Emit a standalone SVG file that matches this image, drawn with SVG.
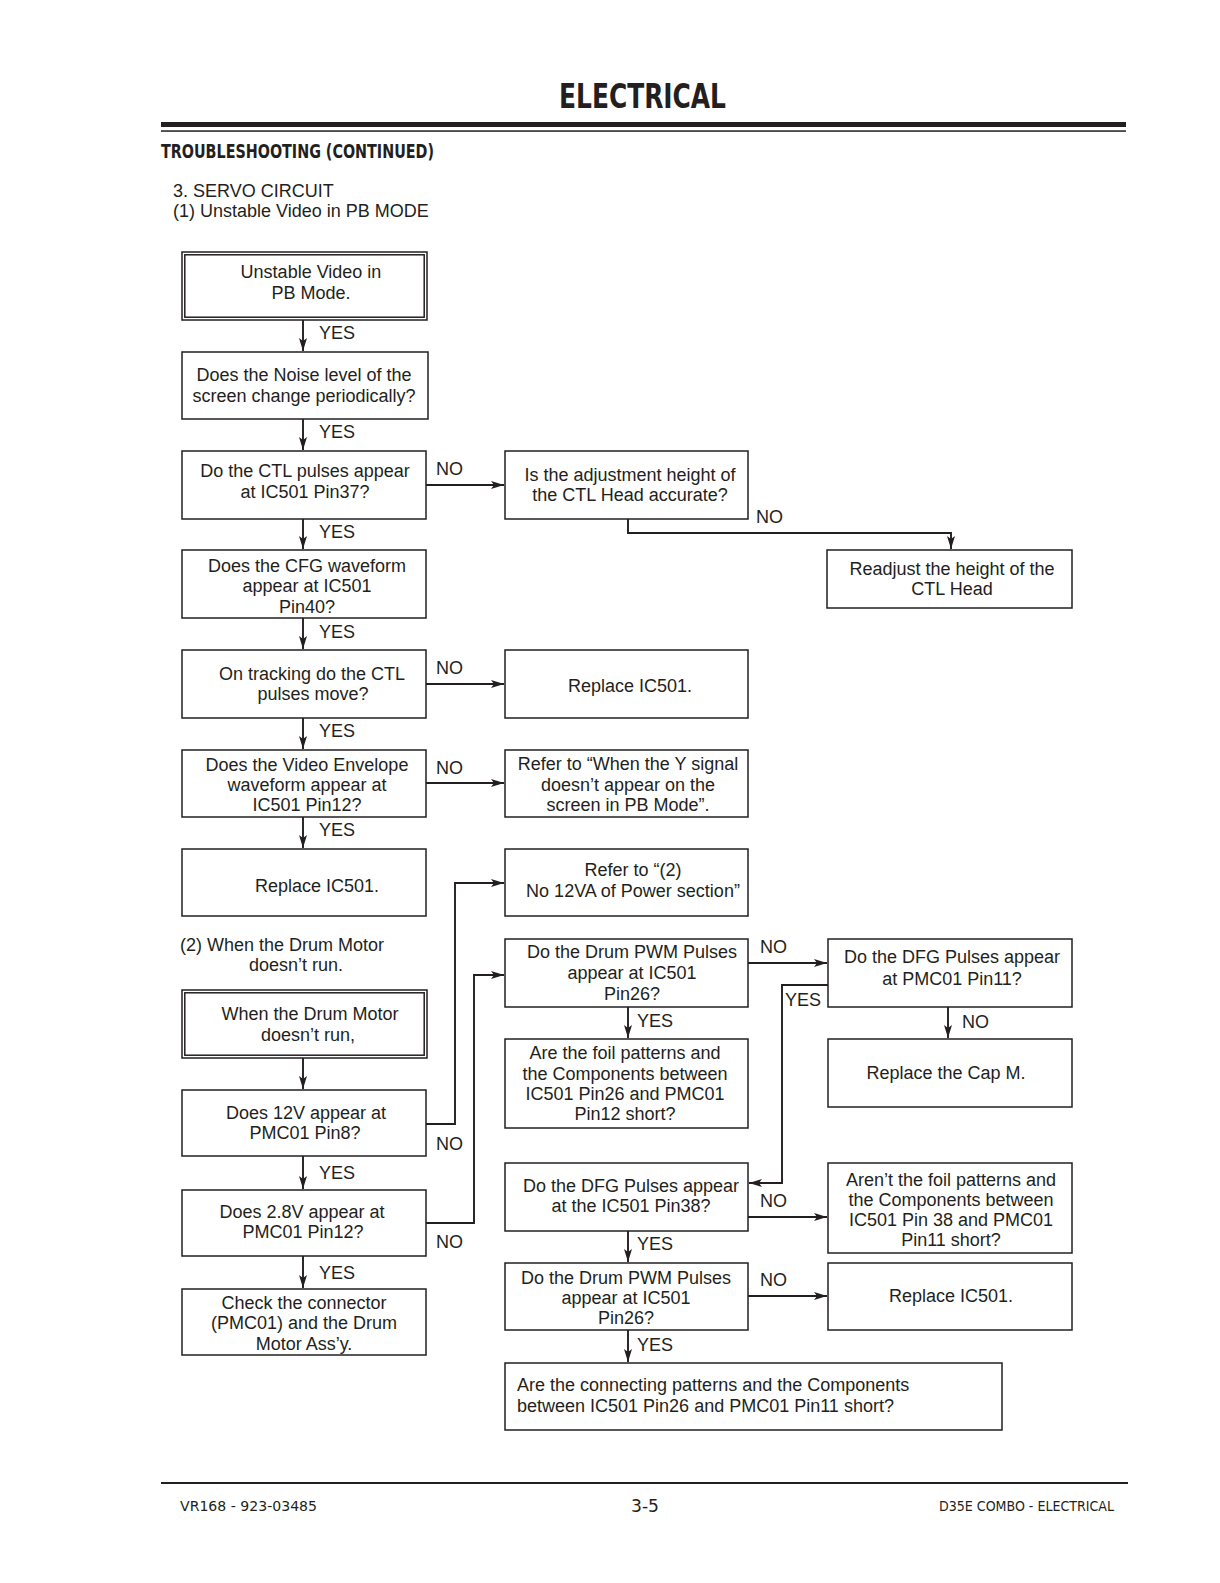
<svg xmlns="http://www.w3.org/2000/svg" width="1220" height="1583" viewBox="0 0 1220 1583">
<style>
  .bg{fill:#ffffff}
  .box{fill:#ffffff;stroke:#231f20;stroke-width:1.5}
  .t{font-family:"Liberation Sans",Arial,sans-serif;font-size:18px;fill:#231f20;text-anchor:middle}
  .tl{font-family:"Liberation Sans",Arial,sans-serif;font-size:18px;fill:#231f20}
  .lbl{font-family:"Liberation Sans",Arial,sans-serif;font-size:18px;fill:#231f20}
  .hd{font-family:"DejaVu Sans Condensed","DejaVu Sans",sans-serif;font-weight:bold;fill:#231f20}
  .ft{font-family:"DejaVu Sans Condensed","DejaVu Sans",sans-serif;fill:#231f20}
  .c{fill:none;stroke:#231f20;stroke-width:1.9}
</style>
<defs>
  <marker id="ah" markerUnits="userSpaceOnUse" markerWidth="14" markerHeight="10" refX="13" refY="4" orient="auto">
    <path d="M0,0 L13,4 L0,8 L3,4 z" fill="#231f20"/>
  </marker>
</defs>
<rect class="bg" x="0" y="0" width="1220" height="1583"/>

<!-- header -->
<g id="header">
  <text class="hd" x="559" y="108" font-size="33" textLength="167" lengthAdjust="spacingAndGlyphs">ELECTRICAL</text>
  <rect x="161" y="122" width="965" height="5" fill="#231f20"/>
  <rect x="161" y="130.3" width="965" height="1.5" fill="#231f20"/>
  <text class="hd" x="161" y="158" font-size="19" textLength="273" lengthAdjust="spacingAndGlyphs">TROUBLESHOOTING (CONTINUED)</text>
  <text class="tl" x="173" y="197">3. SERVO CIRCUIT</text>
  <text class="tl" x="173" y="217">(1) Unstable Video in PB MODE</text>
  <text class="t" x="282" y="951">(2) When the Drum Motor</text>
  <text class="t" x="296" y="971">doesn’t run.</text>
</g>

<!-- connectors -->
<g id="connectors">
  <line class="c" x1="303" y1="320" x2="303" y2="351" marker-end="url(#ah)"/>
  <line class="c" x1="303" y1="419" x2="303" y2="450" marker-end="url(#ah)"/>
  <line class="c" x1="303" y1="519" x2="303" y2="549" marker-end="url(#ah)"/>
  <line class="c" x1="303" y1="618" x2="303" y2="649" marker-end="url(#ah)"/>
  <line class="c" x1="303" y1="718" x2="303" y2="749" marker-end="url(#ah)"/>
  <line class="c" x1="303" y1="817" x2="303" y2="848" marker-end="url(#ah)"/>
  <line class="c" x1="303" y1="1058" x2="303" y2="1089" marker-end="url(#ah)"/>
  <line class="c" x1="303" y1="1156" x2="303" y2="1189" marker-end="url(#ah)"/>
  <line class="c" x1="303" y1="1256" x2="303" y2="1288" marker-end="url(#ah)"/>

  <line class="c" x1="426" y1="485" x2="504" y2="485" marker-end="url(#ah)"/>
  <polyline class="c" points="628,519 628,533 951,533 951,549" marker-end="url(#ah)"/>
  <line class="c" x1="426" y1="684" x2="504" y2="684" marker-end="url(#ah)"/>
  <line class="c" x1="426" y1="783" x2="504" y2="783" marker-end="url(#ah)"/>

  <polyline class="c" points="426,1124 455,1124 455,883 504,883" marker-end="url(#ah)"/>
  <polyline class="c" points="426,1223 474,1223 474,975 504,975" marker-end="url(#ah)"/>

  <line class="c" x1="748" y1="963" x2="827" y2="963" marker-end="url(#ah)"/>
  <line class="c" x1="628" y1="1007" x2="628" y2="1038" marker-end="url(#ah)"/>
  <line class="c" x1="948" y1="1007" x2="948" y2="1038" marker-end="url(#ah)"/>
  <polyline class="c" points="828,985 782,985 782,1183 749,1183" marker-end="url(#ah)"/>
  <line class="c" x1="748" y1="1217" x2="827" y2="1217" marker-end="url(#ah)"/>
  <line class="c" x1="628" y1="1231" x2="628" y2="1262" marker-end="url(#ah)"/>
  <line class="c" x1="748" y1="1296" x2="827" y2="1296" marker-end="url(#ah)" stroke-width="2.5"/>
  <line class="c" x1="628" y1="1330" x2="628" y2="1362" marker-end="url(#ah)"/>

  <text class="lbl" x="319" y="339">YES</text>
  <text class="lbl" x="319" y="438">YES</text>
  <text class="lbl" x="319" y="538">YES</text>
  <text class="lbl" x="319" y="638">YES</text>
  <text class="lbl" x="319" y="737">YES</text>
  <text class="lbl" x="319" y="836">YES</text>
  <text class="lbl" x="319" y="1179">YES</text>
  <text class="lbl" x="319" y="1279">YES</text>
  <text class="lbl" x="436" y="475">NO</text>
  <text class="lbl" x="756" y="523">NO</text>
  <text class="lbl" x="436" y="674">NO</text>
  <text class="lbl" x="436" y="774">NO</text>
  <text class="lbl" x="436" y="1150">NO</text>
  <text class="lbl" x="436" y="1248">NO</text>
  <text class="lbl" x="760" y="953">NO</text>
  <text class="lbl" x="785" y="1006">YES</text>
  <text class="lbl" x="637" y="1027">YES</text>
  <text class="lbl" x="962" y="1028">NO</text>
  <text class="lbl" x="760" y="1207">NO</text>
  <text class="lbl" x="637" y="1250">YES</text>
  <text class="lbl" x="760" y="1286">NO</text>
  <text class="lbl" x="637" y="1351">YES</text>
</g>

<!-- left column -->
<g id="nA">
  <rect class="box" x="182" y="252" width="245" height="68"/>
  <rect class="box" x="184.8" y="254.8" width="239.4" height="62.4"/>
  <text class="t" x="311" y="278">Unstable Video in</text>
  <text class="t" x="311" y="299">PB Mode.</text>
</g>
<g id="nB">
  <rect class="box" x="182" y="352" width="246" height="67"/>
  <text class="t" x="304" y="381">Does the Noise level of the</text>
  <text class="t" x="304" y="402">screen change periodically?</text>
</g>
<g id="nC">
  <rect class="box" x="182" y="451" width="244" height="68"/>
  <text class="t" x="305" y="477">Do the CTL pulses appear</text>
  <text class="t" x="305" y="498">at IC501 Pin37?</text>
</g>
<g id="nD">
  <rect class="box" x="182" y="550" width="244" height="68"/>
  <text class="t" x="307" y="572">Does the CFG waveform</text>
  <text class="t" x="307" y="592">appear at IC501</text>
  <text class="t" x="307" y="613">Pin40?</text>
</g>
<g id="nE">
  <rect class="box" x="182" y="650" width="244" height="68"/>
  <text class="t" x="312" y="680">On tracking do the CTL</text>
  <text class="t" x="313" y="700">pulses move?</text>
</g>
<g id="nF">
  <rect class="box" x="182" y="750" width="244" height="67"/>
  <text class="t" x="307" y="771">Does the Video Envelope</text>
  <text class="t" x="307" y="791">waveform appear at</text>
  <text class="t" x="307" y="811">IC501 Pin12?</text>
</g>
<g id="nG">
  <rect class="box" x="182" y="849" width="244" height="67"/>
  <text class="t" x="317" y="892">Replace IC501.</text>
</g>
<g id="nH">
  <rect class="box" x="182" y="990" width="245" height="68"/>
  <rect class="box" x="184.8" y="992.8" width="239.4" height="62.4"/>
  <text class="t" x="310" y="1020">When the Drum Motor</text>
  <text class="t" x="308" y="1041">doesn’t run,</text>
</g>
<g id="nI">
  <rect class="box" x="182" y="1090" width="244" height="66"/>
  <text class="t" x="306" y="1119">Does 12V appear at</text>
  <text class="t" x="305" y="1139">PMC01 Pin8?</text>
</g>
<g id="nJ">
  <rect class="box" x="182" y="1190" width="244" height="66"/>
  <text class="t" x="302" y="1218">Does 2.8V appear at</text>
  <text class="t" x="303" y="1238">PMC01 Pin12?</text>
</g>
<g id="nK">
  <rect class="box" x="182" y="1289" width="244" height="66"/>
  <text class="t" x="304" y="1309">Check the connector</text>
  <text class="t" x="304" y="1329">(PMC01) and the Drum</text>
  <text class="t" x="304" y="1350">Motor Ass’y.</text>
</g>

<!-- middle column -->
<g id="m1">
  <rect class="box" x="505" y="451" width="243" height="68"/>
  <text class="t" x="630" y="481">Is the adjustment height of</text>
  <text class="t" x="630" y="501">the CTL Head accurate?</text>
</g>
<g id="m2">
  <rect class="box" x="505" y="650" width="243" height="68"/>
  <text class="t" x="630" y="692">Replace IC501.</text>
</g>
<g id="m3">
  <rect class="box" x="505" y="750" width="243" height="67"/>
  <text class="t" x="628" y="770">Refer to “When the Y signal</text>
  <text class="t" x="628" y="791">doesn’t appear on the</text>
  <text class="t" x="628" y="811">screen in PB Mode”.</text>
</g>
<g id="m4">
  <rect class="box" x="505" y="849" width="243" height="67"/>
  <text class="t" x="633" y="876">Refer to “(2)</text>
  <text class="t" x="633" y="897">No 12VA of Power section”</text>
</g>
<g id="m5">
  <rect class="box" x="505" y="939" width="243" height="68"/>
  <text class="t" x="632" y="958">Do the Drum PWM Pulses</text>
  <text class="t" x="632" y="979">appear at IC501</text>
  <text class="t" x="632" y="1000">Pin26?</text>
</g>
<g id="m6">
  <rect class="box" x="505" y="1039" width="243" height="89"/>
  <text class="t" x="625" y="1059">Are the foil patterns and</text>
  <text class="t" x="625" y="1080">the Components between</text>
  <text class="t" x="625" y="1100">IC501 Pin26 and PMC01</text>
  <text class="t" x="625" y="1120">Pin12 short?</text>
</g>
<g id="m7">
  <rect class="box" x="505" y="1163" width="243" height="68"/>
  <text class="t" x="631" y="1192">Do the DFG Pulses appear</text>
  <text class="t" x="631" y="1212">at the IC501 Pin38?</text>
</g>
<g id="m8">
  <rect class="box" x="505" y="1263" width="243" height="67"/>
  <text class="t" x="626" y="1284">Do the Drum PWM Pulses</text>
  <text class="t" x="626" y="1304">appear at IC501</text>
  <text class="t" x="626" y="1324">Pin26?</text>
</g>
<g id="m9">
  <rect class="box" x="505" y="1363" width="497" height="67"/>
  <text class="tl" x="517" y="1391">Are the connecting patterns and the Components</text>
  <text class="tl" x="517" y="1412">between IC501 Pin26 and PMC01 Pin11 short?</text>
</g>

<!-- right column -->
<g id="r1">
  <rect class="box" x="827" y="550" width="245" height="58"/>
  <text class="t" x="952" y="575">Readjust the height of the</text>
  <text class="t" x="952" y="595">CTL Head</text>
</g>
<g id="r2">
  <rect class="box" x="828" y="939" width="244" height="68"/>
  <text class="t" x="952" y="963">Do the DFG Pulses appear</text>
  <text class="t" x="952" y="985">at PMC01 Pin11?</text>
</g>
<g id="r3">
  <rect class="box" x="828" y="1039" width="244" height="68"/>
  <text class="t" x="946" y="1079">Replace the Cap M.</text>
</g>
<g id="r4">
  <rect class="box" x="828" y="1163" width="244" height="90"/>
  <text class="t" x="951" y="1186">Aren’t the foil patterns and</text>
  <text class="t" x="951" y="1206">the Components between</text>
  <text class="t" x="951" y="1226">IC501 Pin 38 and PMC01</text>
  <text class="t" x="951" y="1246">Pin11 short?</text>
</g>
<g id="r5">
  <rect class="box" x="828" y="1263" width="244" height="67"/>
  <text class="t" x="951" y="1302">Replace IC501.</text>
</g>

<!-- footer -->
<g id="footer">
  <rect x="161" y="1482" width="967" height="2" fill="#231f20"/>
  <text class="ft" x="180" y="1511" font-size="14" textLength="137" lengthAdjust="spacingAndGlyphs">VR168 - 923-03485</text>
  <text class="ft" x="631" y="1512" font-size="18" textLength="28" lengthAdjust="spacingAndGlyphs">3-5</text>
  <text class="ft" x="939" y="1511" font-size="14" textLength="175" lengthAdjust="spacingAndGlyphs">D35E COMBO - ELECTRICAL</text>
</g>
</svg>
